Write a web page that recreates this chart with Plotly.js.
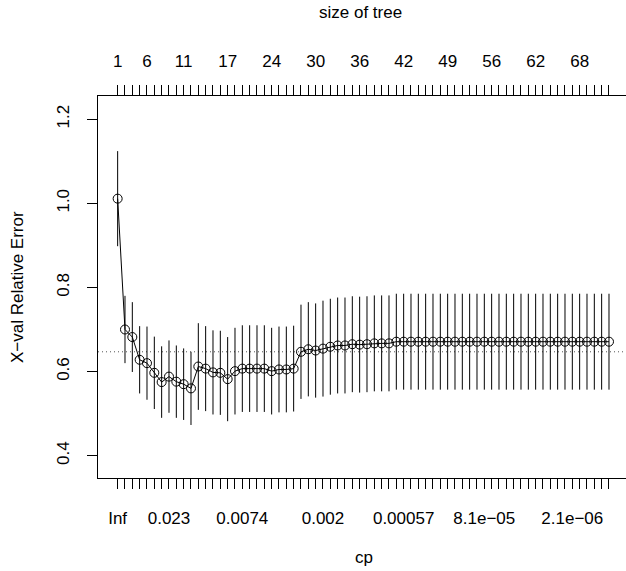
<!DOCTYPE html>
<html>
<head>
<meta charset="utf-8">
<script src="https://cdn.plot.ly/plotly-3.0.1.min.js"></script>
<style>
html, body { margin: 0; padding: 0; background: #fff; overflow: hidden; }
#chart { width: 626px; height: 571px; }
</style>
</head>
<body>
<div id="chart"></div>
<script>
// Cross-validated relative error (xerror) per row of the cp table
const xerror = [
  1.011, 0.700, 0.682, 0.628, 0.620, 0.597, 0.575, 0.588, 0.576, 0.570,
  0.560, 0.612, 0.607, 0.598, 0.597, 0.582, 0.601, 0.607, 0.607, 0.607,
  0.607, 0.601, 0.605, 0.605, 0.607, 0.647, 0.653, 0.650, 0.6545, 0.659,
  0.662, 0.662, 0.665, 0.664, 0.665, 0.667, 0.667, 0.667, 0.671, 0.671,
  0.671, 0.671, 0.671, 0.671, 0.671, 0.671, 0.671, 0.671, 0.671, 0.671,
  0.671, 0.671, 0.671, 0.671, 0.671, 0.671, 0.671, 0.671, 0.671, 0.671,
  0.671, 0.671, 0.671, 0.671, 0.671, 0.671, 0.671, 0.671
];
// Standard error of xerror (xstd)
const xstd = [
  0.113, 0.080, 0.083, 0.080, 0.087, 0.086, 0.085, 0.086, 0.086, 0.085,
  0.087, 0.103, 0.101, 0.100, 0.100, 0.100, 0.103, 0.103, 0.103, 0.103,
  0.103, 0.103, 0.102, 0.102, 0.102, 0.112, 0.112, 0.112, 0.114, 0.114,
  0.114, 0.114, 0.114, 0.114, 0.114, 0.114, 0.114, 0.114, 0.114, 0.114,
  0.114, 0.114, 0.114, 0.114, 0.114, 0.114, 0.114, 0.114, 0.114, 0.114,
  0.114, 0.114, 0.114, 0.114, 0.114, 0.114, 0.114, 0.114, 0.114, 0.114,
  0.114, 0.114, 0.114, 0.114, 0.114, 0.114, 0.114, 0.114
];
// Bottom axis (cp) labels that are drawn, and the row they sit on
const cpLabelRows = [1, 8, 18, 29, 40, 51, 63];
const cpLabels = ["Inf", "0.023", "0.0074", "0.002", "0.00057", "8.1e\u221205", "2.1e\u221206"];
// Top axis (size of tree) labels that are drawn, and the row they sit on
const sizeLabelRows = [1, 5, 10, 16, 22, 28, 34, 40, 46, 52, 58, 64];
const sizeLabels = ["1", "6", "11", "17", "24", "30", "36", "42", "49", "56", "62", "68"];
// Y axis ticks
const yTicks = [0.4, 0.6, 0.8, 1.0, 1.2];
const yTickText = ["0.4", "0.6", "0.8", "1.0", "1.2"];

const rows = xerror.map((_, i) => i + 1);
const cpText = rows.map(r => { const k = cpLabelRows.indexOf(r); return k >= 0 ? cpLabels[k] : ""; });
const sizeText = rows.map(r => { const k = sizeLabelRows.indexOf(r); return k >= 0 ? sizeLabels[k] : ""; });

// 1-SE rule line
let iMin = 0;
xerror.forEach((v, i) => { if (v < xerror[iMin]) iMin = i; });
const minline = xerror[iMin] + xstd[iMin];

const font = { family: "Liberation Sans, Arial, Helvetica, sans-serif", size: 17, color: "#000" };
const xRange = [-1.68, 70.32];
const yRange = [0.347, 1.255];

const traces = [
  {
    x: rows, y: xerror, type: "scatter", mode: "lines+markers",
    line: { color: "#000", width: 1 },
    marker: { symbol: "circle-open", size: 9, color: "#000", line: { width: 1, color: "#000" } },
    error_y: { type: "data", array: xstd, visible: true, width: 0, thickness: 1, color: "#000" },
    hoverinfo: "skip", showlegend: false, cliponaxis: false
  },
  {
    x: rows, y: xerror, type: "scatter", mode: "markers", xaxis: "x2",
    marker: { opacity: 0, size: 1 }, hoverinfo: "skip", showlegend: false
  }
];

const axisCommon = {
  showgrid: false, zeroline: false, showline: true, linecolor: "#000", linewidth: 1,
  ticks: "outside", ticklen: 10, tickwidth: 1, tickcolor: "#000", tickfont: font,
  fixedrange: true
};

const layout = {
  width: 626, height: 571,
  margin: { l: 98, r: 0, t: 96, b: 93, pad: 0 },
  paper_bgcolor: "#fff", plot_bgcolor: "#fff",
  font: font,
  showlegend: false,
  xaxis: Object.assign({}, axisCommon, {
    range: xRange, tickmode: "array", tickvals: rows, ticktext: cpText,
    tickangle: 0, ticklabelstandoff: 15
  }),
  xaxis2: Object.assign({}, axisCommon, {
    range: xRange, overlaying: "x", side: "top", anchor: "y",
    tickmode: "array", tickvals: rows, ticktext: sizeText,
    tickangle: 0, ticklabelstandoff: 11
  }),
  yaxis: Object.assign({}, axisCommon, {
    range: yRange, tickmode: "array", tickvals: yTicks, ticktext: yTickText,
    tickangle: -90, ticklabelstandoff: 11
  }),
  shapes: [
    { type: "line", xref: "paper", yref: "y", x0: 0, x1: 1, y0: minline, y1: minline,
      line: { color: "#555", width: 1, dash: "1px,3px" }, layer: "below" }
  ],
  annotations: [
    { text: "size of tree", xref: "paper", yref: "paper", x: (360 - 98) / 528, y: (478 - 13) / 382,
      xanchor: "center", yanchor: "middle", showarrow: false, font: font },
    { text: "cp", xref: "paper", yref: "paper", x: (364 - 98) / 528, y: (478 - 557) / 382,
      xanchor: "center", yanchor: "middle", showarrow: false, font: font },
    { text: "X\u2212val Relative Error", xref: "paper", yref: "paper", x: (17 - 98) / 528, y: 0.5,
      xanchor: "center", yanchor: "middle", textangle: -90, showarrow: false, font: font }
  ]
};

Plotly.newPlot("chart", traces, layout, { displayModeBar: false, staticPlot: true });
</script>
</body>
</html>
